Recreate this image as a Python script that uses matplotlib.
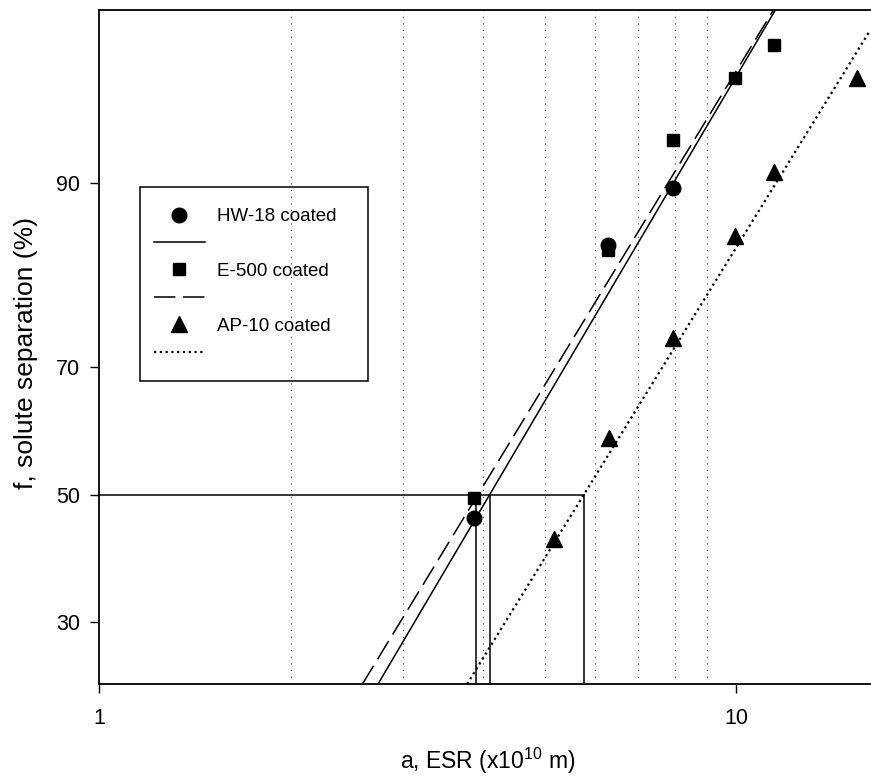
import matplotlib
matplotlib.use("Agg")
import matplotlib.pyplot as plt
from matplotlib.ticker import FixedLocator, NullFormatter
from matplotlib.patches import Rectangle
from statistics import NormalDist
import numpy as np

plt.rcParams['font.family'] = ['Liberation Sans', 'DejaVu Sans']
plt.rcParams['mathtext.fontset'] = 'custom'
plt.rcParams['mathtext.rm'] = 'Liberation Sans'

# measured points: a (x10^10 m) vs f (%)
hw_a = [3.87, 6.28, 7.94]
hw_f = [46.2, 84.8, 89.7]
e5_a = [3.87, 6.28, 7.94, 9.96, 11.47]
e5_f = [49.5, 84.3, 92.8, 95.7, 96.8]
ap_a = [5.18, 6.30, 7.94, 9.96, 11.47, 15.48]
ap_f = [42.7, 59.3, 74.1, 85.7, 90.8, 95.7]

# fitted lines, end points (a, f)
hw_fit_a = [2.74, 11.51]
hw_fit_f = [21.8, 97.7]
e5_fit_a = [2.59, 11.43]
e5_fit_f = [21.8, 97.7]
ap_fit_a = [3.78, 16.2]
ap_fit_f = [21.8, 97.2]

# a at f = 50 %
a50 = [3.91, 4.10, 5.76]

x_ticks = [1, 10]
y_ticks = [30, 50, 70, 90]
grid_x = [2, 3, 4, 5, 6, 7, 8, 9]

_nd = NormalDist()


def probit(p):
    p = np.clip(np.asarray(p, float) / 100.0, 1e-6, 1 - 1e-6)
    return np.vectorize(_nd.inv_cdf, otypes=[float])(p)


def unprobit(z):
    z = np.asarray(z, float)
    return 100.0 * np.vectorize(_nd.cdf, otypes=[float])(z)


W, H = 871, 776
fig = plt.figure(figsize=(W / 100, H / 100), dpi=100)
ax = fig.add_axes([99 / W, 92 / H, 771 / W, 674 / H])
ax.set_xscale('log')
ax.set_yscale('function', functions=(probit, unprobit))
ax.set_xlim(1, 16.2)
ax.set_ylim(21.8, 97.7)

ax.xaxis.set_major_locator(FixedLocator(x_ticks))
ax.xaxis.set_major_formatter(plt.FuncFormatter(lambda v, p: '%g' % v))
ax.xaxis.set_minor_locator(FixedLocator(grid_x))
ax.xaxis.set_minor_formatter(NullFormatter())
ax.yaxis.set_major_locator(FixedLocator(y_ticks))
ax.yaxis.set_major_formatter(plt.FuncFormatter(lambda v, p: '%g' % v))
ax.yaxis.set_minor_locator(FixedLocator([]))
ax.grid(which='minor', axis='x', color='#333333', linestyle=(0, (1, 5)), linewidth=0.8)
ax.tick_params(which='minor', length=0)
ax.tick_params(which='major', direction='out', length=6.5, width=1, labelsize=15.5)
ax.tick_params(axis='x', pad=11)
ax.tick_params(axis='y', pad=7)

for s in ['left', 'bottom', 'top']:
    ax.spines[s].set_linewidth(1.3)
ax.spines['right'].set_visible(False)

# 50 % reference lines
ax.plot([1, a50[2]], [50, 50], color='black', lw=1.1)
for a in a50:
    ax.plot([a, a], [21.8, 50], color='black', lw=1.1)

l1, = ax.plot(hw_fit_a, hw_fit_f, color='black', lw=1.1)
l2, = ax.plot(e5_fit_a, e5_fit_f, color='black', lw=1.1, linestyle=(0, (14, 5)))
l3, = ax.plot(ap_fit_a, ap_fit_f, color='black', lw=1.6, linestyle=(0, (1, 1.6)))

m1, = ax.plot(hw_a, hw_f, 'o', color='black', ms=10.5, linestyle='none')
m2, = ax.plot(e5_a, e5_f, 's', color='black', ms=9, linestyle='none')
m3, = ax.plot(ap_a, ap_f, '^', color='black', ms=11, linestyle='none')

# legend box
fig.patches.append(Rectangle((140 / W, 1 - 381 / H), 228 / W, 194 / H,
                             transform=fig.transFigure, fill=False,
                             edgecolor='black', linewidth=1.1, zorder=5))
leg = ax.legend([m1, l1, m2, l2, m3, l3],
                ['HW-18 coated', '', 'E-500 coated', '', 'AP-10 coated', ''],
                loc='upper left', bbox_to_anchor=(154 / W, 1 - 208 / H),
                bbox_transform=fig.transFigure, borderaxespad=0, borderpad=0,
                fontsize=13.5, frameon=False, handlelength=2.7,
                handletextpad=0.65, labelspacing=0.55)

ax.set_xlabel('a, ESR (x10$^{10}$ m)', fontsize=16.5)
ax.xaxis.set_label_coords((488 - 99) / 771, -(746 - 684) / 674)
ax.set_ylabel('f, solute separation (%)', fontsize=19)
ax.yaxis.set_label_coords((38 - 99) / 771, (684 - 353) / 674)

fig.savefig('out.png', dpi=100)
